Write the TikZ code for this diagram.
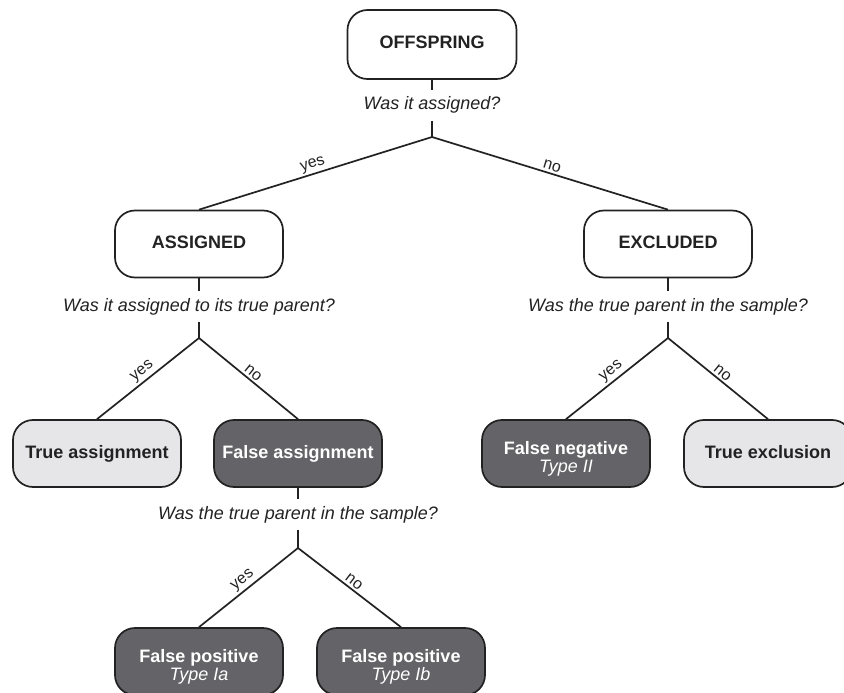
\documentclass[tikz,border=0pt]{standalone}
\usepackage{fontspec}
\setmainfont{Liberation Sans}
\definecolor{lightbox}{HTML}{E6E6E8}
\definecolor{darkbox}{HTML}{636368}
\definecolor{ink}{HTML}{222222}
\newcommand{\twolines}[2]{\begin{tabular}{@{}c@{}}#1\\ \mdseries\itshape #2\end{tabular}}
\begin{document}
\begin{tikzpicture}[x=1pt,y=-1pt,
 box/.style={draw=ink, line width=1.7pt, rounded corners=20pt, minimum width=168pt, minimum height=67pt, font=\fontsize{18}{18}\selectfont\bfseries, text=ink, text height=13pt, text depth=4pt},
 twoline/.style={text height=28.4pt, text depth=7.6pt},
 whitebox/.style={box, fill=white},
 lightnode/.style={box, fill=lightbox},
 darknode/.style={box, fill=darkbox, text=white},
 quest/.style={font=\fontsize{18}{20}\selectfont\itshape, text=ink, inner xsep=2pt, inner ysep=6.5pt, text height=13pt, text depth=4pt, anchor=base},
 conn/.style={draw=ink, line width=1.7pt},
 lab/.style={font=\fontsize{16}{18}\selectfont, text=ink, sloped, above, inner sep=2pt, midway}
]
\useasboundingbox (0,0) rectangle (844,693);
\clip (0,0) rectangle (844,693);

\node[whitebox, minimum width=169pt, minimum height=69pt] (off) at (432,44.5) {OFFSPRING};
\node[quest] (q1) at (432,110) {Was it assigned?};
\coordinate (b1) at (432,137);

\node[whitebox] (asg) at (199,244) {ASSIGNED};
\node[whitebox] (exc) at (668,244) {EXCLUDED};

\node[quest] (q2) at (199,311) {Was it assigned to its true parent?};
\node[quest] (q3) at (668,311) {Was the true parent in the sample?};
\coordinate (b2) at (199,338);
\coordinate (b3) at (668,338);

\node[lightnode] (ta) at (97,453.5) {True assignment};
\node[darknode] (fa) at (298,453.5) {False assignment};
\node[darknode, twoline] (fn) at (566,453.5) {\twolines{False negative}{Type II}};
\node[lightnode] (te) at (768,453.5) {True exclusion};

\node[quest] (q4) at (298,519) {Was the true parent in the sample?};
\coordinate (b4) at (298,548);

\node[darknode, twoline] (fpa) at (199,661.5) {\twolines{False positive}{Type Ia}};
\node[darknode, twoline] (fpb) at (401,661.5) {\twolines{False positive}{Type Ib}};

\draw[conn] (off.south) -- (q1.north);
\draw[conn] (q1.south) -- (b1);
\draw[conn] (b1) -- node[lab] {yes} (asg.north);
\draw[conn] (b1) -- node[lab] {no} (exc.north);

\draw[conn] (asg.south) -- (q2.north);
\draw[conn] (q2.south) -- (b2);
\draw[conn] (b2) -- node[lab] {yes} (ta.north);
\draw[conn] (b2) -- node[lab] {no} (fa.north);

\draw[conn] (exc.south) -- (q3.north);
\draw[conn] (q3.south) -- (b3);
\draw[conn] (b3) -- node[lab] {yes} (fn.north);
\draw[conn] (b3) -- node[lab] {no} (te.north);

\draw[conn] (fa.south) -- (q4.north);
\draw[conn] (q4.south) -- (b4);
\draw[conn] (b4) -- node[lab] {yes} (fpa.north);
\draw[conn] (b4) -- node[lab] {no} (fpb.north);
\end{tikzpicture}
\end{document}
